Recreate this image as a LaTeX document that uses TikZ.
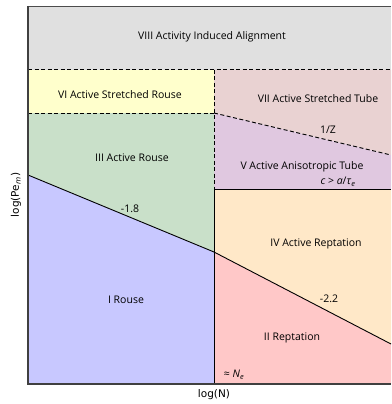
\documentclass[tikz,border=0pt]{standalone}
\usepackage{fontspec}
\setmainfont{Open Sans}
\newfontfamily\axfont{DejaVu Sans}
\definecolor{cVIII}{HTML}{E0E0E0}
\definecolor{cVI}{HTML}{FFFFCC}
\definecolor{cVII}{HTML}{E9D2D2}
\definecolor{cV}{HTML}{E0C8E0}
\definecolor{cIII}{HTML}{C9E0C9}
\definecolor{cIV}{HTML}{FFE8C8}
\definecolor{cI}{HTML}{C8C8FF}
\definecolor{cII}{HTML}{FFC8C8}
\begin{document}
\begin{tikzpicture}[x=1pt,y=-1pt,
  lbl/.style={font=\fontsize{10.5}{12}\selectfont, inner sep=0pt},
  axlbl/.style={font=\axfont\fontsize{10.5}{12}\selectfont, inner sep=0pt},
  bound/.style={line width=0.9pt, black},
  dbound/.style={line width=0.9pt, black, dash pattern=on 4pt off 2.5pt},
  spine/.style={line width=1.1pt, black!75}]
\useasboundingbox (0,0) rectangle (391,404);
% key points
\coordinate (TL) at (28,6);
\coordinate (TR) at (391,6);
\coordinate (A1) at (28,69.5);
\coordinate (A2) at (214,69.5);
\coordinate (A3) at (391,69.5);
\coordinate (B1) at (28,113);
\coordinate (B2) at (214,113);
\coordinate (C3) at (391,155);
\coordinate (D2) at (214,189);
\coordinate (D3) at (391,189);
\coordinate (R1) at (28,175);
\coordinate (R2) at (214,252);
\coordinate (R3) at (391,344);
\coordinate (BL) at (28,384);
\coordinate (BM) at (214,384);
\coordinate (BR) at (391,384);
% fills
\fill[cVIII] (TL) -- (TR) -- (A3) -- (A1) -- cycle;
\fill[cVI] (A1) -- (A2) -- (B2) -- (B1) -- cycle;
\fill[cVII] (A2) -- (A3) -- (C3) -- (B2) -- cycle;
\fill[cV] (B2) -- (C3) -- (D3) -- (D2) -- cycle;
\fill[cIII] (B1) -- (B2) -- (R2) -- (R1) -- cycle;
\fill[cIV] (D2) -- (D3) -- (R3) -- (R2) -- cycle;
\fill[cI] (R1) -- (R2) -- (BM) -- (BL) -- cycle;
\fill[cII] (R2) -- (R3) -- (BR) -- (BM) -- cycle;
% boundaries
\draw[dbound] (A1) -- (A3);
\draw[dbound] (B1) -- (B2);
\draw[dbound] (A2) -- (D2);
\draw[dbound] (B2) -- (C3);
\draw[bound] (D2) -- (D3);
\draw[bound] (D2) -- (BM);
\draw[bound] (R1) -- (R2) -- (R3);
% spines
\draw[line width=0.6pt, black!70] (TL) -- (TR);
\draw[spine] (TL) -- (BL) -- (BR);
% labels
\node[lbl] (l8) at (212,37) {VIII Activity Induced Alignment};
\node[lbl] (l6) at (120,95) {VI Active Stretched Rouse};
\node[lbl] (l7) at (318,99) {VII Active Stretched Tube};
\node[lbl] (lz) at (328,130) {1/Z};
\node[lbl] (l5) at (302,167) {V Active Anisotropic Tube};
\node[lbl] (lc) at (338,182) {\textit{c} > \textit{a}/\textit{τ}\textsubscript{\textit{e}}};
\node[lbl] (l3) at (132,158) {III Active Rouse};
\node[lbl] (s1) at (130,209) {-1.8};
\node[lbl] (l4) at (316,244) {IV Active Reptation};
\node[lbl] (l1) at (126,300) {I Rouse};
\node[lbl] (s2) at (329,299) {-2.2};
\node[lbl] (l2) at (292,338) {II Reptation};
\node[lbl] (ne) at (234,375) {≈ \textit{N}\textsubscript{\textit{e}}};
\node[axlbl] (xl) at (214,395) {log(N)};
\node[axlbl, rotate=90] (yl) at (16,195) {log(Pe\textsubscript{\textit{m}})};
\end{tikzpicture}
\end{document}
